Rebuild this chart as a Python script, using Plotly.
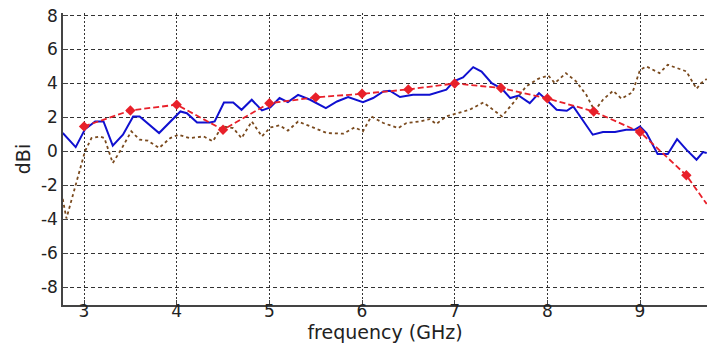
import plotly.graph_objects as go

# Blue measured curve
blue_x = [2.77, 2.91, 3.01, 3.12, 3.21, 3.31, 3.42, 3.53, 3.60, 3.81, 4.04, 4.11, 4.22, 4.36, 4.41,
          4.51, 4.61, 4.70, 4.81, 4.92, 5.01, 5.11, 5.20, 5.31, 5.44, 5.61, 5.73, 5.85, 6.01, 6.12,
          6.23, 6.30, 6.41, 6.55, 6.73, 6.91, 6.99, 7.09, 7.20, 7.29, 7.40, 7.51, 7.60, 7.69, 7.81,
          7.91, 8.01, 8.10, 8.21, 8.28, 8.49, 8.60, 8.73, 8.85, 8.94, 9.00, 9.07, 9.19, 9.30, 9.40,
          9.50, 9.61, 9.68, 9.72]
blue_y = [1.08, 0.25, 1.30, 1.76, 1.76, 0.34, 0.98, 2.06, 2.06, 1.08, 2.35, 2.25, 1.70, 1.70, 1.76,
          2.88, 2.88, 2.45, 3.04, 2.41, 2.59, 3.14, 2.90, 3.33, 3.04, 2.55, 2.94, 3.20, 2.90, 3.14,
          3.53, 3.57, 3.20, 3.33, 3.33, 3.63, 4.12, 4.35, 4.96, 4.70, 4.02, 3.69, 3.14, 3.29, 2.84,
          3.43, 2.94, 2.45, 2.39, 2.65, 0.98, 1.14, 1.14, 1.27, 1.27, 1.47, 1.08, -0.16, -0.16, 0.72,
          0.10, -0.49, -0.04, -0.10]

# Red dashed curve with diamond markers (every 0.5 GHz)
red_x = [3.0, 3.5, 4.0, 4.5, 5.0, 5.5, 6.0, 6.5, 7.0, 7.5, 8.0, 8.5, 9.0, 9.5, 9.72]
red_y = [1.47, 2.41, 2.75, 1.27, 2.84, 3.18, 3.39, 3.65, 4.00, 3.73, 3.12, 2.35, 1.14, -1.41, -3.10]
red_marker_x = red_x[:-1]
red_marker_y = red_y[:-1]

# Brown dotted curve
brown_x = [2.77, 2.81, 3.01, 3.08, 3.17, 3.22, 3.31, 3.41, 3.51, 3.60, 3.69, 3.81, 3.93, 4.02, 4.14,
           4.29, 4.39, 4.49, 4.61, 4.70, 4.81, 4.92, 5.01, 5.11, 5.20, 5.31, 5.47, 5.62, 5.80, 5.92,
           6.01, 6.10, 6.23, 6.39, 6.48, 6.62, 6.73, 6.80, 6.91, 7.06, 7.16, 7.31, 7.40, 7.51, 7.63,
           7.77, 7.90, 8.01, 8.08, 8.20, 8.31, 8.42, 8.51, 8.60, 8.71, 8.80, 8.92, 9.00, 9.07, 9.21,
           9.30, 9.50, 9.61, 9.66, 9.72]
brown_y = [-2.8, -3.95, 0.0, 0.78, 0.88, 0.78, -0.69, 0.20, 1.18, 0.69, 0.63, 0.20, 0.78, 0.98, 0.78,
           0.88, 0.59, 1.47, 1.37, 0.78, 1.76, 0.88, 1.41, 1.53, 1.22, 1.76, 1.41, 1.08, 1.04, 1.41,
           1.18, 2.06, 1.67, 1.37, 1.67, 1.76, 1.90, 1.61, 2.06, 2.31, 2.45, 2.88, 2.51, 2.06, 2.84,
           3.82, 4.27, 4.47, 4.02, 4.61, 4.12, 3.33, 2.39, 3.04, 3.57, 3.10, 3.49, 4.80, 5.00, 4.61,
           5.10, 4.71, 3.69, 4.02, 4.27]

x_ticks = [3, 4, 5, 6, 7, 8, 9]
y_ticks = [-8, -6, -4, -2, 0, 2, 4, 6, 8]
x_title = "frequency (GHz)"
y_title = "dBi"

FONT = "DejaVu Sans, sans-serif"

fig = go.Figure()
fig.add_trace(go.Scatter(x=brown_x, y=brown_y, mode="lines",
                         line=dict(color="#7a4a1e", width=1.8, dash="dot"), showlegend=False))
fig.add_trace(go.Scatter(x=blue_x, y=blue_y, mode="lines",
                         line=dict(color="#1010d0", width=2), showlegend=False))
fig.add_trace(go.Scatter(x=red_x, y=red_y, mode="lines",
                         line=dict(color="#e8202a", width=1.8, dash="6px,3px"), showlegend=False))
fig.add_trace(go.Scatter(x=red_marker_x, y=red_marker_y, mode="markers",
                         marker=dict(color="#e8202a", size=8, symbol="diamond"), showlegend=False))

fig.update_layout(
    width=708, height=344,
    margin=dict(l=63, r=1, t=13, b=39),
    paper_bgcolor="white", plot_bgcolor="white",
    font=dict(family=FONT, size=17, color="#222222"),
    showlegend=False,
)
fig.update_xaxes(
    range=[2.773, 9.723], tickvals=x_ticks, ticktext=[str(v) for v in x_ticks],
    showgrid=True, gridcolor="#333333", gridwidth=1, griddash="2px,2px",
    showline=True, linecolor="#444444", linewidth=1.5, mirror=False,
    ticks="inside", ticklen=5, tickcolor="#444444", ticklabelstandoff=-10,
    ticklabeloverflow="allow",
    zeroline=False,
    title=dict(text=x_title, font=dict(size=19), standoff=3),
    automargin=False,
)
fig.update_yaxes(
    range=[-9.05, 8.15], tickvals=y_ticks, ticktext=[str(v) for v in y_ticks],
    showgrid=True, gridcolor="#333333", gridwidth=1, griddash="4px,3px",
    showline=True, linecolor="#444444", linewidth=1.5, mirror=False,
    ticks="inside", ticklen=5, tickcolor="#444444",
    ticklabeloverflow="allow",
    zeroline=False,
    title=dict(text=y_title, font=dict(size=19), standoff=5),
    automargin=False,
)

fig.write_html("out.html",
               config={"displayModeBar": False},
               post_script="document.body.style.margin='0';document.body.style.overflow='hidden';")
